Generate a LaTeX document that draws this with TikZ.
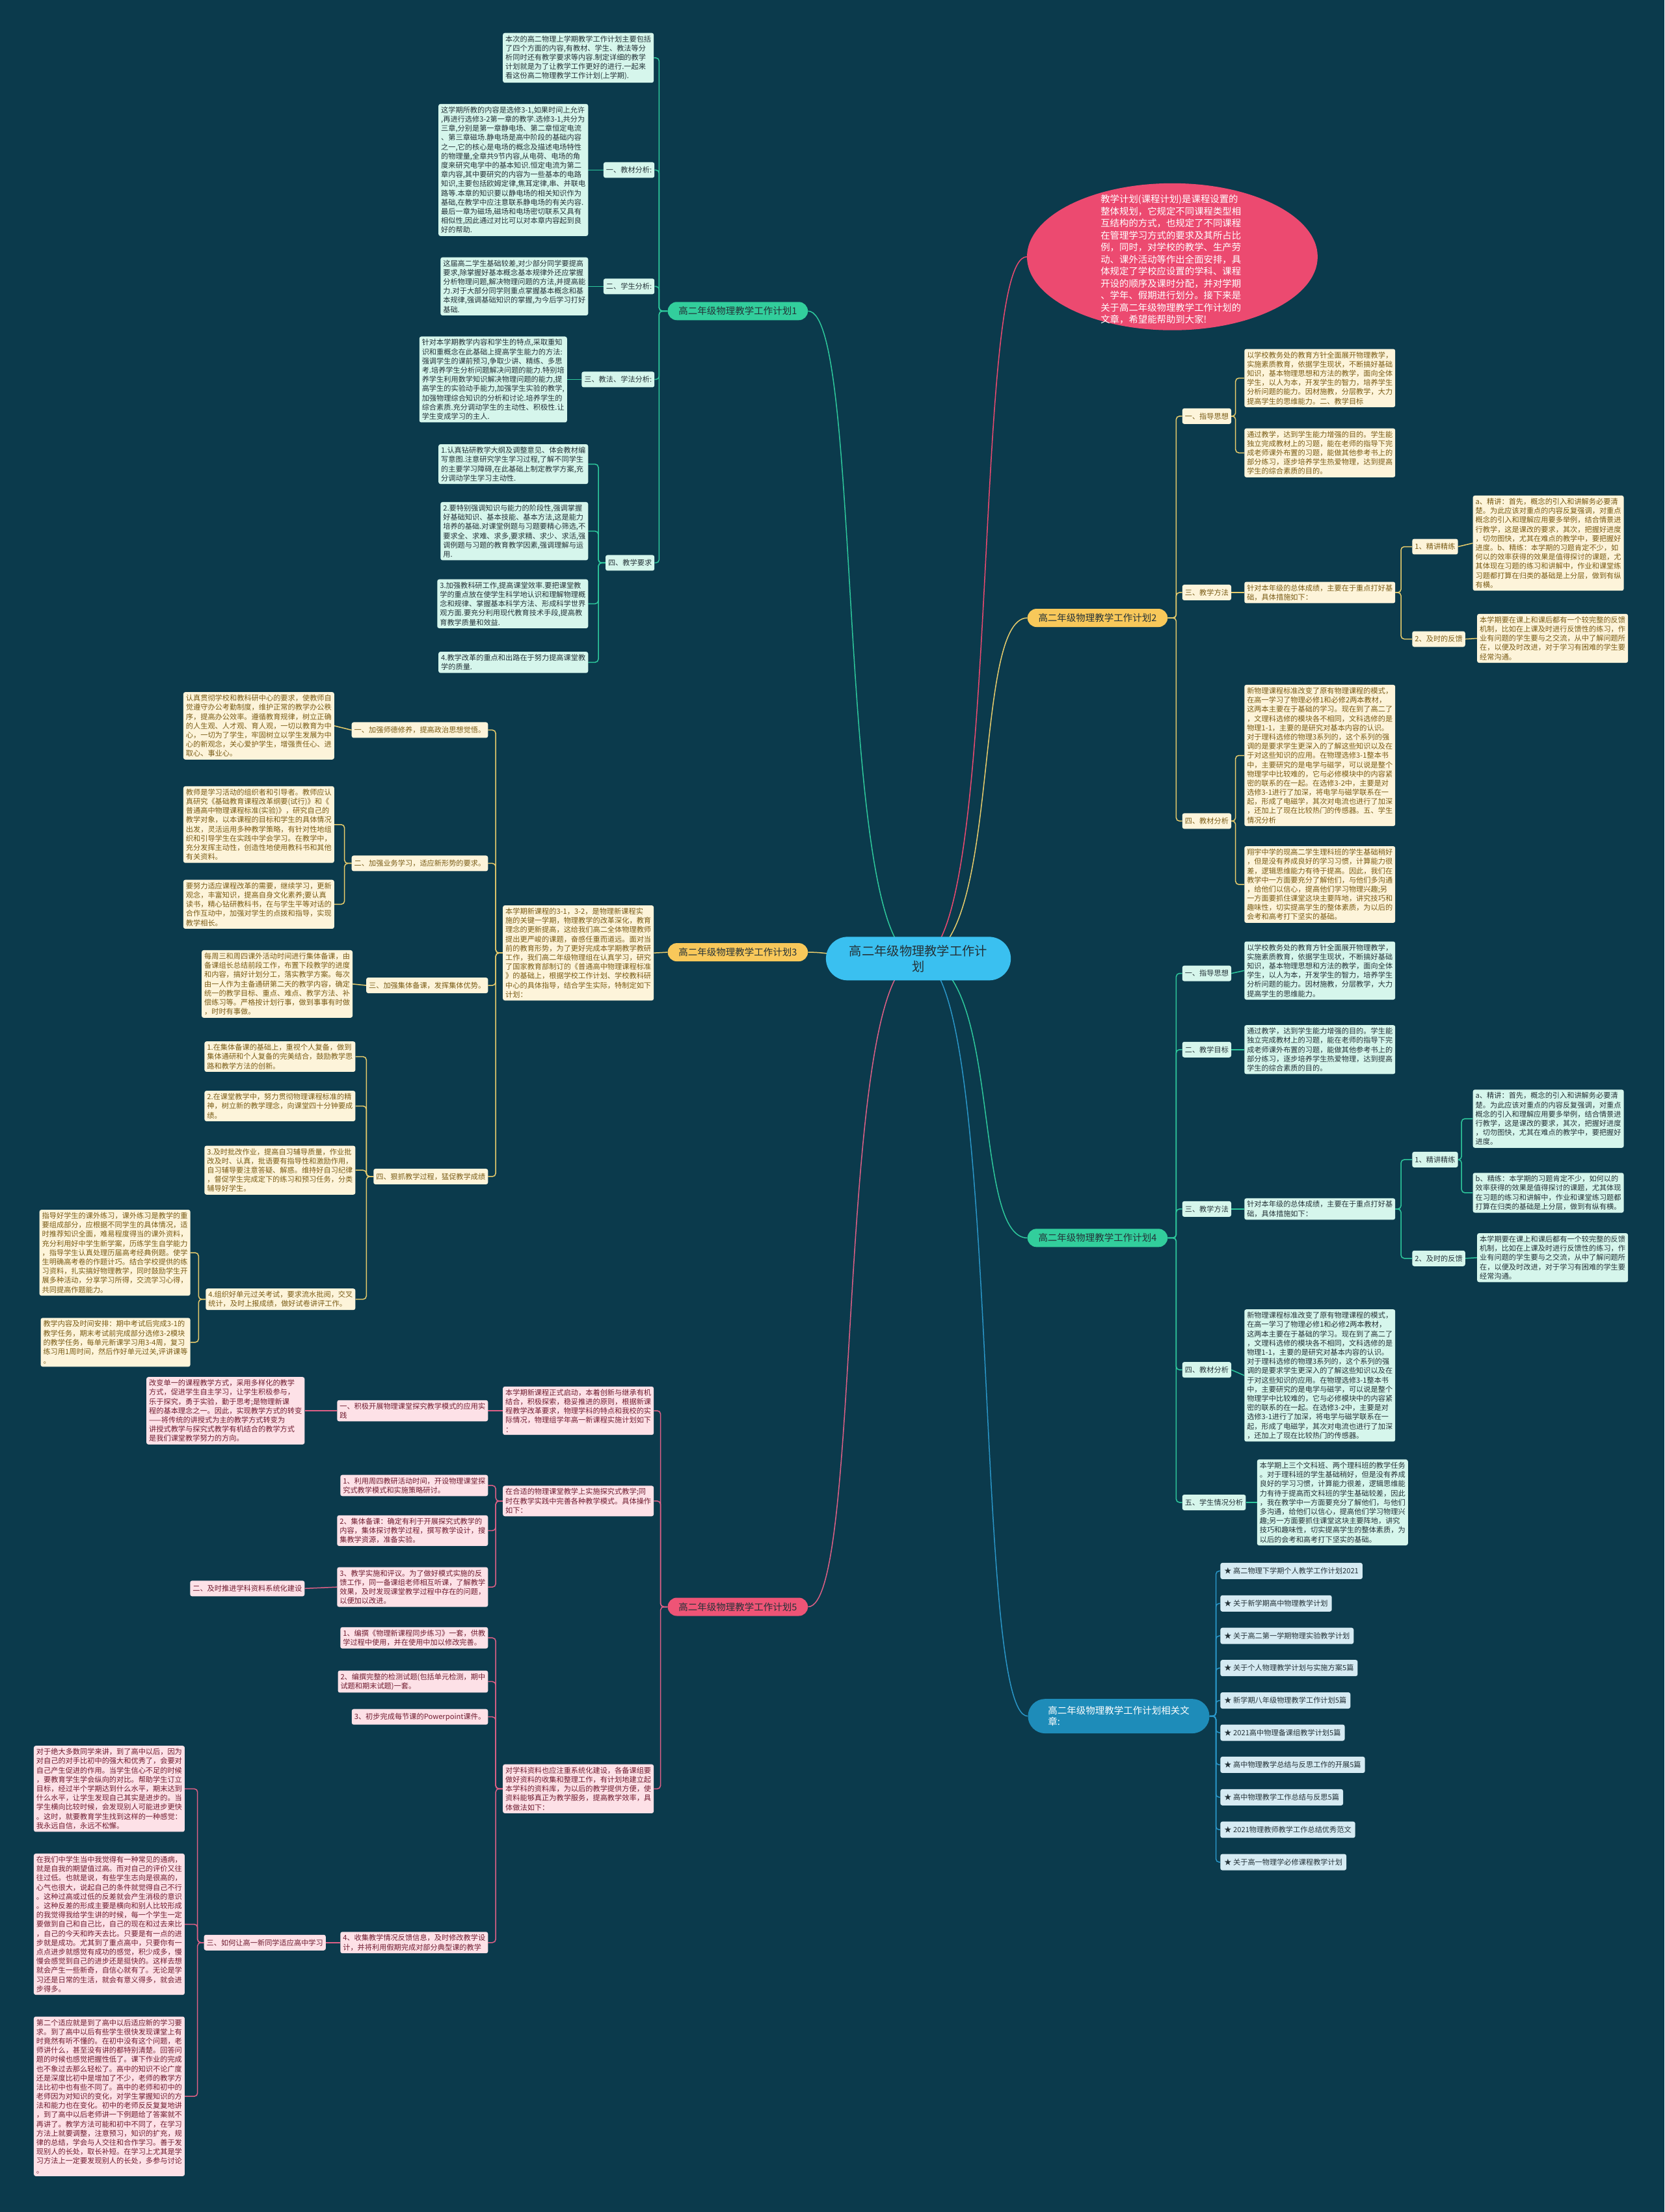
\documentclass[tikz,border=0pt]{standalone}
\usepackage{fontspec}
\setmainfont{Noto Sans CJK SC}
\usepackage{tikz}
\usetikzlibrary{shapes.misc, shapes.geometric, backgrounds}
\definecolor{bg}{RGB}{11,58,76}
\definecolor{ink}{RGB}{36,50,56}
\definecolor{mintfill}{RGB}{214,246,236}
\definecolor{mintline}{RGB}{46,200,156}
\definecolor{mintpill}{RGB}{50,206,156}
\definecolor{sandfill}{RGB}{253,244,218}
\definecolor{sandink}{RGB}{122,92,22}
\definecolor{sandline}{RGB}{232,204,108}
\definecolor{sandpill}{RGB}{248,200,90}
\definecolor{rosefill}{RGB}{253,225,231}
\definecolor{roseink}{RGB}{112,28,48}
\definecolor{roseline}{RGB}{222,96,134}
\definecolor{rosepill}{RGB}{238,84,118}
\definecolor{skyfill}{RGB}{214,235,243}
\definecolor{skyline}{RGB}{42,150,200}
\definecolor{skypill}{RGB}{30,140,185}
\definecolor{hubfill}{RGB}{58,192,240}
\definecolor{introred}{RGB}{236,74,112}
\tikzset{
    box/.style={
        rectangle,
        rounded corners=3pt,
        align=left,
        inner xsep=4pt,
        inner ysep=4pt,
        font=\fontsize{11.2}{14.2}\selectfont
    },
    tag/.style={box, minimum height=24pt, inner ysep=3pt},
    pill/.style={
        rounded rectangle,
        inner xsep=15pt,
        minimum height=28pt,
        text=ink,
        font=\fontsize{14.5}{17}\selectfont
    },
    link/.style={rounded corners=5pt, line width=1.5pt}
}

\begin{document}
\begin{tikzpicture}[
    x=2.1695pt, y=-2.1695pt,
    mint/.style={box, fill=mintfill, text=ink},
    minttag/.style={tag, fill=mintfill, text=ink},
    sand/.style={box, fill=sandfill, text=sandink},
    sandtag/.style={tag, fill=sandfill, text=sandink},
    rose/.style={box, fill=rosefill, text=roseink},
    rosetag/.style={tag, fill=rosefill, text=roseink},
    skyitem/.style={tag, fill=skyfill, text=ink, minimum height=25pt, inner xsep=6pt},
    mintlink/.style={link, draw=mintline},
    sandlink/.style={link, draw=sandline},
    roselink/.style={link, draw=roseline},
    skylink/.style={link, draw=skyline},
    hub/.style={
        rounded rectangle,
        fill=hubfill,
        text=ink,
        align=center,
        minimum width=291pt,
        minimum height=67pt,
        font=\fontsize{19.3}{24}\selectfont
    }
]
\useasboundingbox (0,0) rectangle (1180,1568);

% centre and main branches
\node[hub] (ctr) at (651,679.5) {高二年级物理教学工作计\\划};
\node[pill, fill=mintpill] (b1) at (523,220.5) {高二年级物理教学工作计划1};
\node[pill, fill=sandpill] (b2) at (778,438) {高二年级物理教学工作计划2};
\node[pill, fill=sandpill] (b3) at (523,675) {高二年级物理教学工作计划3};
\node[pill, fill=mintpill] (b4) at (778,877.5) {高二年级物理教学工作计划4};
\node[pill, fill=rosepill] (b5) at (523,1139) {高二年级物理教学工作计划5};
\node[pill, fill=skypill, text=white, align=left, inner xsep=26pt, minimum height=53pt] (b6) at (793,1216.5)
    {高二年级物理教学工作计划相关文\\章:};

\node[ellipse, fill=introred, minimum width=447pt, minimum height=226pt, inner sep=0pt] (intro) at (831,182) {};
\node[align=left, text=white, font=\fontsize{14.4}{18.5}\selectfont] (introtxt) at (830,184)
    {教学计划(课程计划)是课程设置的\\整体规划，它规定不同课程类型相\\互结构的方式，也规定了不同课程\\在管理学习方式的要求及其所占比\\例，同时，对学校的教学、生产劳\\动、课外活动等作出全面安排，具\\体规定了学校应设置的学科、课程\\开设的顺序及课时分配，并对学期\\、学年、假期进行划分。接下来是\\关于高二年级物理教学工作计划的\\文章，希望能帮助到大家!};

% branch 1
\node[mint, anchor=east] (b1intro) at (463.5,41)
    {本次的高二物理上学期教学工作计划主要包括\\了四个方面的内容,有教材、学生、教法等分\\析同时还有教学要求等内容.制定详细的教学\\计划就是为了让教学工作更好的进行.一起来\\看这份高二物理教学工作计划(上学期).};
\node[minttag, anchor=east] (b1l1) at (464,120.5) {一、教材分析:};
\node[mint, anchor=east] (b1t1) at (417,120.5)
    {这学期所教的内容是选修3-1,如果时间上允许\\,再进行选修3-2第一章的教学.选修3-1,共分为\\三章,分别是第一章静电场、第二章恒定电流\\、第三章磁场.静电场是高中阶段的基础内容\\之一,它的核心是电场的概念及描述电场特性\\的物理量,全章共9节内容,从电荷、电场的角\\度来研究电学中的基本知识.恒定电流为第二\\章内容,其中要研究的内容为一些基本的电路\\知识,主要包括欧姆定律,焦耳定律,串、并联电\\路等.本章的知识要以静电场的相关知识作为\\基础,在教学中应注意联系静电场的有关内容.\\最后一章为磁场,磁场和电场密切联系又具有\\相似性,因此通过对比可以对本章内容起到良\\好的帮助.};
\node[minttag, anchor=east] (b1l2) at (464,203) {二、学生分析:};
\node[mint, anchor=east] (b1t2) at (417,203)
    {这届高二学生基础较差,对少部分同学要提高\\要求,除掌握好基本概念基本规律外还应掌握\\分析物理问题,解决物理问题的方法,并提高能\\力.对于大部分同学则重点掌握基本概念和基\\本规律,强调基础知识的掌握,为今后学习打好\\基础.};
\node[minttag, anchor=east] (b1l3) at (464,269) {三、教法、学法分析:};
\node[mint, anchor=east] (b1t3) at (402,269)
    {针对本学期教学内容和学生的特点,采取重知\\识和重概念在此基础上提高学生能力的方法:\\强调学生的课前预习,争取少讲、精练、多思\\考.培养学生分析问题解决问题的能力.特别培\\养学生利用数学知识解决物理问题的能力,提\\高学生的实验动手能力,加强学生实验的教学,\\加强物理综合知识的分析和讨论.培养学生的\\综合素质.充分调动学生的主动性、积极性.让\\学生变成学习的主人.};
\node[minttag, anchor=east] (b1l4) at (464,399) {四、教学要求};
\node[mint, anchor=east] (b1r1) at (417,329)
    {1.认真钻研教学大纲及调整意见、体会教材编\\写意图.注意研究学生学习过程,了解不同学生\\的主要学习障碍,在此基础上制定教学方案,充\\分调动学生学习主动性.};
\node[mint, anchor=east] (b1r2) at (417,376.5)
    {2.要特别强调知识与能力的阶段性,强调掌握\\好基础知识、基本技能、基本方法,这是能力\\培养的基础.对课堂例题与习题要精心筛选,不\\要求全、求难、求多,要求精、求少、求活,强\\调例题与习题的教育教学因素,强调理解与运\\用.};
\node[mint, anchor=east] (b1r3) at (417,428)
    {3.加强教科研工作,提高课堂效率.要把课堂教\\学的重点放在使学生科学地认识和理解物理概\\念和规律、掌握基本科学方法、形成科学世界\\观方面.要充分利用现代教育技术手段,提高教\\育教学质量和效益.};
\node[mint, anchor=east] (b1r4) at (417,469.5)
    {4.教学改革的重点和出路在于努力提高课堂教\\学的质量.};

% branch 2
\node[sandtag, anchor=west] (b2m1) at (838,295) {一、指导思想};
\node[sand, anchor=west] (b2y1) at (882,268)
    {以学校教务处的教育方针全面展开物理教学，\\实施素质教育，依据学生现状，不断搞好基础\\知识，基本物理思想和方法的教学，面向全体\\学生，以人为本，开发学生的智力，培养学生\\分析问题的能力。因材施教，分层教学，大力\\提高学生的思维能力。二、教学目标};
\node[sand, anchor=west] (b2y2) at (882,321)
    {通过教学，达到学生能力增强的目的。学生能\\独立完成教材上的习题，能在老师的指导下完\\成老师课外布置的习题，能做其他参考书上的\\部分练习，逐步培养学生热爱物理，达到提高\\学生的综合素质的目的。};
\node[sandtag, anchor=west] (b2m2) at (838,420) {三、教学方法};
\node[sand, anchor=west] (b2y3) at (882,420)
    {针对本年级的总体成绩，主要在于重点打好基\\础，具体措施如下：};
\node[sandtag, anchor=west] (b2k1) at (1001,387.5) {1、精讲精练};
\node[sand, anchor=west] (b2y4) at (1044,385)
    {a、精讲：首先，概念的引入和讲解务必要清\\楚。为此应该对重点的内容反复强调，对重点\\概念的引入和理解应用要多举例，结合情景进\\行教学，这是课改的要求，其次，把握好进度\\，切勿图快，尤其在难点的教学中，要把握好\\进度。b、精练：本学期的习题肯定不少，如\\何以的效率获得的效果是值得探讨的课题，尤\\其体现在习题的练习和讲解中，作业和课堂练\\习题都打算在归类的基础是上分层，做到有纵\\有横。};
\node[sandtag, anchor=west] (b2k2) at (1001,453) {2、及时的反馈};
\node[sand, anchor=west] (b2y5) at (1047,452.5)
    {本学期要在课上和课后都有一个较完整的反馈\\机制，比如在上课及时进行反馈性的练习，作\\业有问题的学生要与之交流，从中了解问题所\\在，以便及时改进，对于学习有困难的学生要\\经常沟通。};
\node[sandtag, anchor=west] (b2m3) at (838,582) {四、教材分析};
\node[sand, anchor=west] (b2y6) at (882,535.5)
    {新物理课程标准改变了原有物理课程的模式，\\在高一学习了物理必修1和必修2两本教材，\\这两本主要在于基础的学习。现在到了高二了\\，文理科选修的模块各不相同，文科选修的是\\物理1-1，主要的是研究对基本内容的认识。\\对于理科选修的物理3系列的，这个系列的强\\调的是要求学生更深入的了解这些知识以及在\\于对这些知识的应用。在物理选修3-1整本书\\中，主要研究的是电学与磁学，可以说是整个\\物理学中比较难的，它与必修模块中的内容紧\\密的联系的在一起。在选修3-2中，主要是对\\选修3-1进行了加深，将电学与磁学联系在一\\起，形成了电磁学，其次对电流也进行了加深\\，还加上了现在比较热门的传感器。五、学生\\情况分析};
\node[sand, anchor=west] (b2y7) at (882,627)
    {翔宇中学的现高二学生理科班的学生基础稍好\\，但是没有养成良好的学习习惯，计算能力很\\差，逻辑思维能力有待于提高。因此，我们在\\教学中一方面要充分了解他们，与他们多沟通\\，给他们以信心，提高他们学习物理兴趣;另\\一方面要抓住课堂这块主要阵地，讲究技巧和\\趣味性，切实提高学生的整体素质，为以后的\\会考和高考打下坚实的基础。};

% branch 3
\node[sand, anchor=east] (b3p0) at (463.5,675.5)
    {本学期新课程的3-1，3-2，是物理新课程实\\施的关键一学期，物理教学的改革深化，教育\\理念的更新提高，这给我们高二全体物理教师\\提出更严峻的课题，奋感任重而道远。面对当\\前的教育形势，为了更好完成本学期教学教研\\工作，我们高二年级物理组在认真学习，研究\\了国家教育部制订的《普通高中物理课程标准\\》的基础上，根据学校工作计划、学校教科研\\中心的具体指导，结合学生实际，特制定如下\\计划：};
\node[sandtag, anchor=east] (b3p1) at (346,517.5) {一、加强师德修养，提高政治思想觉悟。};
\node[sand, anchor=east] (b3c1) at (237,514.5)
    {认真贯彻学校和教科研中心的要求，使教师自\\觉遵守办公考勤制度，维护正常的教学办公秩\\序，提高办公效率。遵循教育规律，树立正确\\的人生观、人才观、育人观，一切以教育为中\\心，一切为了学生，牢固树立以学生发展为中\\心的新观念，关心爱护学生，增强责任心、进\\取心、事业心。};
\node[sandtag, anchor=east] (b3p2) at (346,612) {二、加强业务学习，适应新形势的要求。};
\node[sand, anchor=east] (b3c2) at (237,584.5)
    {教师是学习活动的组织者和引导者。教师应认\\真研究《基础教育课程改革纲要(试行)》和《\\普通高中物理课程标准(实验)》，研究自己的\\教学对象，以本课程的目标和学生的具体情况\\出发，灵活运用多种教学策略，有针对性地组\\织和引导学生在实践中学会学习。在教学中，\\充分发挥主动性，创造性地使用教科书和其他\\有关资料。};
\node[sand, anchor=east] (b3c3) at (237,641)
    {要努力适应课程改革的需要，继续学习，更新\\观念，丰富知识，提高自身文化素养;要认真\\读书，精心钻研教科书，在与学生平等对话的\\合作互动中，加强对学生的点拨和指导，实现\\教学相长。};
\node[sandtag, anchor=east] (b3p3) at (346,698.5) {三、加强集体备课，发挥集体优势。};
\node[sand, anchor=east] (b3c4) at (250,697.5)
    {每周三和周四课外活动时间进行集体备课，由\\备课组长总结前段工作，布置下段教学的进度\\和内容，搞好计划分工，落实教学方案。每次\\由一人作为主备通研第二天的教学内容，确定\\统一的教学目标、重点、难点、教学方法、补\\偿练习等。严格按计划行事，做到事事有时做\\，时时有事做。};
\node[sandtag, anchor=east] (b3p4) at (346,834) {四、狠抓教学过程，猛促教学成绩};
\node[sand, anchor=east] (b3q1) at (252,749)
    {1.在集体备课的基础上，重视个人复备，做到\\集体通研和个人复备的完美结合，鼓励教学思\\路和教学方法的创新。};
\node[sand, anchor=east] (b3q2) at (252,784)
    {2.在课堂教学中，努力贯彻物理课程标准的精\\神，树立新的教学理念，向课堂四十分钟要成\\绩。};
\node[sand, anchor=east] (b3q3) at (252,829.5)
    {3.及时批改作业，提高自习辅导质量，作业批\\改及时、认真，批语要有指导性和激励作用，\\自习辅导要注意答疑、解惑。维持好自习纪律\\，督促学生完成定下的练习和预习任务，分类\\辅导好学生。};
\node[sand, anchor=east] (b3q4) at (252,921)
    {4.组织好单元过关考试，要求流水批阅，交叉\\统计，及时上报成绩，做好试卷讲评工作。};
\node[sand, anchor=east] (b3q4a) at (135,888)
    {指导好学生的课外练习，课外练习是教学的重\\要组成部分，应根据不同学生的具体情况，适\\时推荐知识全面，难易程度得当的课外资料，\\充分利用好中学生新学案，历练学生自学能力\\，指导学生认真处理历届高考经典例题。使学\\生明确高考卷的作题计巧。结合学校提供的练\\习资料，扎实搞好物理教学，同时鼓励学生开\\展多种活动，分享学习所得，交流学习心得，\\共同提高作题能力。};
\node[sand, anchor=east] (b3q4b) at (135,951.5)
    {教学内容及时间安排：期中考试后完成3-1的\\教学任务，期末考试前完成部分选修3-2模块\\的教学任务，每单元新课学习用3-4周，复习\\练习用1周时间，然后作好单元过关,评讲课等\\。};

% branch 4
\node[minttag, anchor=west] (b4n1) at (838,690) {一、指导思想};
\node[mint, anchor=west] (b4t1) at (882,688)
    {以学校教务处的教育方针全面展开物理教学，\\实施素质教育，依据学生现状，不断搞好基础\\知识，基本物理思想和方法的教学，面向全体\\学生，以人为本，开发学生的智力，培养学生\\分析问题的能力。因材施教，分层教学，大力\\提高学生的思维能力。};
\node[minttag, anchor=west] (b4n2) at (838,744) {二、教学目标};
\node[mint, anchor=west] (b4t2) at (882,744)
    {通过教学，达到学生能力增强的目的。学生能\\独立完成教材上的习题，能在老师的指导下完\\成老师课外布置的习题，能做其他参考书上的\\部分练习，逐步培养学生热爱物理，达到提高\\学生的综合素质的目的。};
\node[minttag, anchor=west] (b4n3) at (838,857) {三、教学方法};
\node[mint, anchor=west] (b4t3) at (882,857)
    {针对本年级的总体成绩，主要在于重点打好基\\础，具体措施如下：};
\node[minttag, anchor=west] (b4k1) at (1001,822) {1、精讲精练};
\node[mint, anchor=west] (b4a) at (1044,793)
    {a、精讲：首先，概念的引入和讲解务必要清\\楚。为此应该对重点的内容反复强调，对重点\\概念的引入和理解应用要多举例，结合情景进\\行教学，这是课改的要求，其次，把握好进度\\，切勿图快，尤其在难点的教学中，要把握好\\进度。};
\node[mint, anchor=west] (b4b) at (1044,845.5)
    {b、精练：本学期的习题肯定不少，如何以的\\效率获得的效果是值得探讨的课题，尤其体现\\在习题的练习和讲解中，作业和课堂练习题都\\打算在归类的基础是上分层，做到有纵有横。};
\node[minttag, anchor=west] (b4k2) at (1001,892) {2、及时的反馈};
\node[mint, anchor=west] (b4c) at (1047,891.5)
    {本学期要在课上和课后都有一个较完整的反馈\\机制，比如在上课及时进行反馈性的练习，作\\业有问题的学生要与之交流，从中了解问题所\\在，以便及时改进，对于学习有困难的学生要\\经常沟通。};
\node[minttag, anchor=west] (b4n4) at (838,971) {四、教材分析};
\node[mint, anchor=west] (b4t4) at (882,975)
    {新物理课程标准改变了原有物理课程的模式，\\在高一学习了物理必修1和必修2两本教材，\\这两本主要在于基础的学习。现在到了高二了\\，文理科选修的模块各不相同，文科选修的是\\物理1-1，主要的是研究对基本内容的认识。\\对于理科选修的物理3系列的，这个系列的强\\调的是要求学生更深入的了解这些知识以及在\\于对这些知识的应用。在物理选修3-1整本书\\中，主要研究的是电学与磁学，可以说是整个\\物理学中比较难的，它与必修模块中的内容紧\\密的联系的在一起。在选修3-2中，主要是对\\选修3-1进行了加深，将电学与磁学联系在一\\起，形成了电磁学，其次对电流也进行了加深\\，还加上了现在比较热门的传感器。};
\node[minttag, anchor=west] (b4n5) at (838,1065) {五、学生情况分析};
\node[mint, anchor=west] (b4t5) at (891,1065)
    {本学期上三个文科班、两个理科班的教学任务\\。对于理科班的学生基础稍好，但是没有养成\\良好的学习习惯，计算能力很差，逻辑思维能\\力有待于提高而文科班的学生基础较差，因此\\，我在教学中一方面要充分了解他们，与他们\\多沟通，给他们以信心，提高他们学习物理兴\\趣;另一方面要抓住课堂这块主要阵地，讲究\\技巧和趣味性，切实提高学生的整体素质，为\\以后的会考和高考打下坚实的基础。};

% branch 5
\node[rose, anchor=east] (b5s0) at (463.5,1000)
    {本学期新课程正式启动，本着创新与继承有机\\结合，积极探索，稳妥推进的原则，根据新课\\程教学改革要求，物理学科的特点和我校的实\\际情况，物理组学年高一新课程实施计划如下\\：};
\node[rose, anchor=east] (b5a) at (346,1000)
    {一、积极开展物理课堂探究教学模式的应用实\\践};
\node[rose, anchor=east] (b5a1) at (216,1000)
    {改变单一的课程教学方式，采用多样化的教学\\方式，促进学生自主学习，让学生积极参与，\\乐于探究，勇于实验，勤于思考;是物理新课\\程的基本理念之一。因此，实现教学方式的转变\\——将传统的讲授式为主的教学方式转变为\\讲授式教学与探究式教学有机结合的教学方式\\是我们课堂教学努力的方向。};
\node[rose, anchor=east] (b5s1) at (463.5,1064)
    {在合适的物理课堂教学上实施探究式教学;同\\时在教学实践中完善各种教学模式。具体操作\\如下：};
\node[rose, anchor=east] (b5s1c1) at (346,1053)
    {1、利用周四教研活动时间，开设物理课堂探\\究式教学模式和实施策略研讨。};
\node[rose, anchor=east] (b5s1c2) at (346,1085)
    {2、集体备课：确定有利于开展探究式教学的\\内容，集体探讨教学过程，撰写教学设计，搜\\集教学资源，准备实验。};
\node[rose, anchor=east] (b5s1c3) at (346,1125)
    {3、教学实施和评议。为了做好模式实施的反\\馈工作，同一备课组老师相互听课，了解教学\\效果，及时发现课堂教学过程中存在的问题，\\以便加以改进。};
\node[rosetag, anchor=east] (b5e) at (216,1126) {二、及时推进学科资料系统化建设};
\node[rose, anchor=east] (b5s2) at (463.5,1268)
    {对学科资料也应注重系统化建设，各备课组要\\做好资料的收集和整理工作，有计划地建立起\\本学科的资料库，为以后的教学提供方便，使\\资料能够真正为教学服务，提高教学效率，具\\体做法如下：};
\node[rose, anchor=east] (b5s2c1) at (346,1161)
    {1、编撰《物理新课程同步练习》一套，供教\\学过程中使用，并在使用中加以修改完善。};
\node[rose, anchor=east] (b5s2c2) at (346,1192)
    {2、编撰完整的检测试题(包括单元检测，期中\\试题和期末试题)一套。};
\node[rosetag, anchor=east] (b5s2c3) at (346,1217) {3、初步完成每节课的Powerpoint课件。};
\node[rose, anchor=east] (b5s2c4) at (346,1377)
    {4、收集教学情况反馈信息，及时修改教学设\\计，并将利用假期完成对部分典型课的教学};
\node[rosetag, anchor=east] (b5f) at (231,1377) {三、如何让高一新同学适应高中学习};
\node[rose, anchor=east] (b5g1) at (131,1268)
    {对于绝大多数同学来讲，到了高中以后，因为\\对自己的对手比初中的强大和优秀了，会要对\\自己产生促进的作用。当学生信心不足的时候\\，要教育学生学会纵向的对比。帮助学生订立\\目标，经过半个学期达到什么水平，期末达到\\什么水平，让学生发现自己其实是进步的。当\\学生横向比较时候，会发现别人可能进步更快\\。这时，就要教育学生找到这样的一种感觉：\\我永远自信，永远不松懈。};
\node[rose, anchor=east] (b5g2) at (131,1364)
    {在我们中学生当中我觉得有一种常见的通病，\\就是自我的期望值过高。而对自己的评价又往\\往过低。也就是说，有些学生志向是很高的，\\心气也很大，说起自己的条件就觉得自己不行\\。这种过高或过低的反差就会产生消极的意识\\。这种反差的形成主要是横向和别人比较形成\\的我觉得我给学生讲的时候，每一个学生一定\\要做到自己和自己比，自己的现在和过去来比\\，自己的今天和昨天去比。只要是有一点的进\\步就是成功。尤其到了重点高中，只要你有一\\点点进步就感觉有成功的感觉，积少成多，慢\\慢会感觉到自己的进步还是挺快的。这样去想\\就会产生一些新奇，自信心就有了。无论是学\\习还是日常的生活，就会有意义得多，就会进\\步得多。};
\node[rose, anchor=east] (b5g3) at (131,1486)
    {第二个适应就是到了高中以后适应新的学习要\\求。到了高中以后有些学生很快发现课堂上有\\时竟然有听不懂的。在初中没有这个问题，老\\师讲什么，甚至没有讲的都特别清楚。回答问\\题的时候也感觉把握性低了。课下作业的完成\\也不象过去那么轻松了。高中的知识不论广度\\还是深度比初中是增加了不少，老师的教学方\\法比初中也有些不同了。高中的老师和初中的\\老师因为对知识的变化，对学生掌握知识的方\\法和能力也在变化。初中的老师反反复复地讲\\，到了高中以后老师讲一下例题给了答案就不\\再讲了。教学方法可能和初中不同了，在学习\\方法上就要调整，注意预习，知识的扩充，规\\律的总结，学会与人交往和合作学习。善于发\\现别人的长处，取长补短。在学习上尤其是学\\习方法上一定要发现别人的长处，多参与讨论\\。};

% branch 6
\foreach \i/\y/\t in {
    1/1113.6/{高二物理下学期个人教学工作计划2021},
    2/1136.6/{关于新学期高中物理教学计划},
    3/1159.6/{关于高二第一学期物理实验教学计划},
    4/1182.4/{关于个人物理教学计划与实施方案5篇},
    5/1205.4/{新学期八年级物理教学工作计划5篇},
    6/1228.2/{2021高中物理备课组教学计划5篇},
    7/1251/{高中物理教学总结与反思工作的开展5篇},
    8/1274/{高中物理教学工作总结与反思5篇},
    9/1297/{2021物理教师教学工作总结优秀范文},
    10/1320/{关于高一物理学必修课程教学计划}}
    \node[skyitem, anchor=west] (rel\i) at (865,\y) {★ \t};

% connectors
\begin{scope}[on background layer]
\fill[bg] (0,0) rectangle (1180,1568);
\draw[mintlink] (ctr.center) .. controls +(-60,0) and +(40,0) .. (b1.east);
\draw[sandlink] (ctr.center) .. controls +(-60,0) and +(20,0) .. (b3.east);
\draw[roselink] (ctr.center) .. controls +(-60,0) and +(40,0) .. (b5.east);
\draw[sandlink] (ctr.center) .. controls +(60,0) and +(-40,0) .. (b2.west);
\draw[mintlink] (ctr.center) .. controls +(60,0) and +(-40,0) .. (b4.west);
\draw[skylink] (ctr.center) .. controls +(60,0) and +(-40,0) .. (b6.west);
\draw[link, draw=introred] (ctr.center) .. controls +(60,0) and +(-40,0) .. (intro.west);

\foreach \c in {b1intro,b1l1,b1l2,b1l3,b1l4}
    \draw[mintlink] (b1.west) -- ++(-6,0) |- (\c.east);
\draw[mintlink] (b1l1.west) -- (b1t1.east);
\draw[mintlink] (b1l2.west) -- (b1t2.east);
\draw[mintlink] (b1l3.west) -- (b1t3.east);
\foreach \c in {b1r1,b1r2,b1r3,b1r4}
    \draw[mintlink] (b1l4.west) -- ++(-5,0) |- (\c.east);

\foreach \c in {b2m1,b2m2,b2m3}
    \draw[sandlink] (b2.east) -- ++(6,0) |- (\c.west);
\foreach \c in {b2y1,b2y2}
    \draw[sandlink] (b2m1.east) -- ++(3,0) |- (\c.west);
\draw[sandlink] (b2m2.east) -- (b2y3.west);
\foreach \c in {b2k1,b2k2}
    \draw[sandlink] (b2y3.east) -- ++(4,0) |- (\c.west);
\draw[sandlink] (b2k1.east) -- (b2y4.west);
\draw[sandlink] (b2k2.east) -- (b2y5.west);
\foreach \c in {b2y6,b2y7}
    \draw[sandlink] (b2m3.east) -- ++(3,0) |- (\c.west);

\draw[sandlink] (b3.west) -- (b3p0.east);
\foreach \c in {b3p1,b3p2,b3p3,b3p4}
    \draw[sandlink] (b3p0.west) -- ++(-5,0) |- (\c.east);
\draw[sandlink] (b3p1.west) -- (b3c1.east);
\foreach \c in {b3c2,b3c3}
    \draw[sandlink] (b3p2.west) -- ++(-5,0) |- (\c.east);
\draw[sandlink] (b3p3.west) -- (b3c4.east);
\foreach \c in {b3q1,b3q2,b3q3,b3q4}
    \draw[sandlink] (b3p4.west) -- ++(-5,0) |- (\c.east);
\foreach \c in {b3q4a,b3q4b}
    \draw[sandlink] (b3q4.west) -- ++(-5,0) |- (\c.east);

\foreach \c in {b4n1,b4n2,b4n3,b4n4,b4n5}
    \draw[mintlink] (b4.east) -- ++(6,0) |- (\c.west);
\draw[mintlink] (b4n1.east) -- (b4t1.west);
\draw[mintlink] (b4n2.east) -- (b4t2.west);
\draw[mintlink] (b4n3.east) -- (b4t3.west);
\draw[mintlink] (b4n4.east) -- (b4t4.west);
\draw[mintlink] (b4n5.east) -- (b4t5.west);
\foreach \c in {b4k1,b4k2}
    \draw[mintlink] (b4t3.east) -- ++(4,0) |- (\c.west);
\foreach \c in {b4a,b4b}
    \draw[mintlink] (b4k1.east) -- ++(2.5,0) |- (\c.west);
\draw[mintlink] (b4k2.east) -- (b4c.west);

\foreach \c in {b5s0,b5s1,b5s2}
    \draw[roselink] (b5.west) -- ++(-5,0) |- (\c.east);
\draw[roselink] (b5s0.west) -- (b5a.east);
\draw[roselink] (b5a.west) -- (b5a1.east);
\foreach \c in {b5s1c1,b5s1c2,b5s1c3}
    \draw[roselink] (b5s1.west) -- ++(-5,0) |- (\c.east);
\draw[roselink] (b5s1c3.west) -- (b5e.east);
\foreach \c in {b5s2c1,b5s2c2,b5s2c3,b5s2c4}
    \draw[roselink] (b5s2.west) -- ++(-5,0) |- (\c.east);
\draw[roselink] (b5s2c4.west) -- (b5f.east);
\foreach \c in {b5g1,b5g2,b5g3}
    \draw[roselink] (b5f.west) -- ++(-4.5,0) |- (\c.east);

\foreach \i in {1,...,10}
    \draw[skylink] (b6.east) -- ++(4.5,0) |- (rel\i.west);
\end{scope}
\end{tikzpicture}
\end{document}
